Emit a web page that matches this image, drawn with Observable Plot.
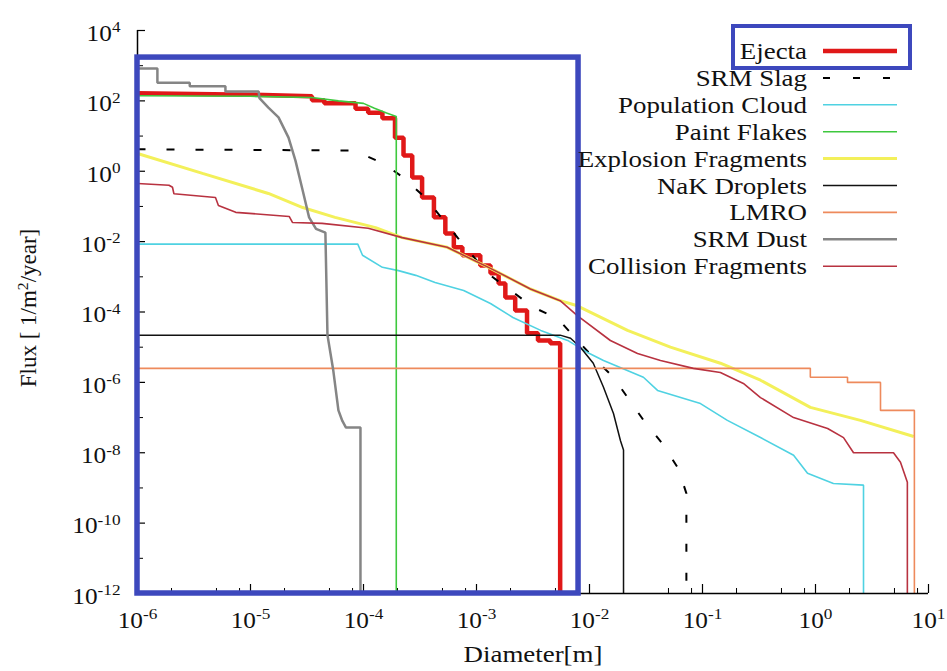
<!DOCTYPE html>
<html><head><meta charset="utf-8">
<script src="https://cdn.jsdelivr.net/npm/d3@7"></script>
<script src="https://cdn.jsdelivr.net/npm/@observablehq/plot@0.6"></script>
<style>
html,body{margin:0;padding:0;background:#fff;}
#chart{width:947px;height:671px;overflow:hidden;}
#chart svg text, #chart svg tspan{font-family:"Liberation Serif","Times New Roman","DejaVu Serif",serif !important;}
</style></head><body><div id="chart"></div>
<script>
// ---------------- data ----------------
const seriesNames = ["Ejecta","SRM Slag","Population Cloud","Paint Flakes","Explosion Fragments","NaK Droplets","LMRO","SRM Dust","Collision Fragments"];

const ejecta = [[1e-6,165],[1e-5,150],[3.5e-5,135],[3.5e-5,105],[4.5e-5,105],[4.5e-5,85],[8.5e-5,85],[8.5e-5,60],[1.1e-4,60],[1.1e-4,46],[1.47e-4,46],[1.47e-4,32],[1.9e-4,32],[1.9e-4,9],[2.26e-4,9],[2.26e-4,2.8],[2.7e-4,2.8],[2.7e-4,0.66],[3.3e-4,0.66],[3.3e-4,0.18],[4.2e-4,0.18],[4.2e-4,0.049],[5.3e-4,0.049],[5.3e-4,0.017],[6.3e-4,0.017],[6.3e-4,0.0069],[7.5e-4,0.0069],[7.5e-4,0.0041],[1.08e-3,0.0041],[1.08e-3,0.0021],[1.33e-3,0.0021],[1.33e-3,1.26e-3],[1.57e-3,1.26e-3],[1.57e-3,6.5e-4],[1.8e-3,6.5e-4],[1.8e-3,2.6e-4],[2.2e-3,2.6e-4],[2.2e-3,1.1e-4],[2.8e-3,1.1e-4],[2.8e-3,2.5e-5],[3.5e-3,2.5e-5],[3.5e-3,1.55e-5],[4.5e-3,1.55e-5],[4.5e-3,1.3e-5],[5.5e-3,1.3e-5],[5.5e-3,1e-12]];

const srmSlag = [[1e-6,4.2],[7.4e-5,3.9],[9e-5,3.4],[1.5e-4,1.66],[2.26e-4,0.66],[3.5e-4,0.18],[6.8e-4,0.013],[1.25e-3,1.26e-3],[3.2e-3,1.35e-4],[5.2e-3,6.6e-5],[1.08e-2,5.1e-6],[1.63e-2,1.4e-6],[2.2e-2,3.5e-7],[3.1e-2,7.3e-8],[4.4e-2,1.85e-8],[6.1e-2,3.6e-9],[7.2e-2,7e-10],[7.2e-2,1e-12]];

const populationCloud = [[1e-6,8.5e-3],[8.9e-5,8.5e-3],[9.8e-5,4.1e-3],[1.47e-4,1.86e-3],[2.04e-4,1.5e-3],[2.9e-4,1.1e-3],[4.3e-4,6.9e-4],[7.7e-4,4.1e-4],[1.33e-3,1.75e-4],[2.1e-3,7e-5],[3.7e-3,3e-5],[6.4e-3,1.56e-5],[9.6e-3,7.1e-6],[1.33e-2,4.2e-6],[3.0e-2,1.4e-6],[4.0e-2,5.9e-7],[9.6e-2,2.5e-7],[0.166,8.3e-8],[0.326,2.7e-8],[0.64,8.5e-9],[0.85,2.6e-9],[1.44,1.34e-9],[2.66,1.2e-9],[2.66,1e-12]];

const paintFlakes = [[1e-6,140],[1e-5,135],[3.5e-5,125],[6e-5,100],[1e-4,85],[1.25e-4,62],[1.6e-4,45],[1.95e-4,36],[1.95e-4,1e-12]];

const explosionFragments = [[1e-6,3.2],[3.76e-6,0.87],[1.44e-5,0.234],[2.9e-5,0.093],[5.6e-5,0.049],[1.28e-4,0.025],[2.2e-4,0.013],[5.5e-4,6.9e-3],[1.33e-3,1.74e-3],[3.0e-3,4.5e-4],[5.5e-3,2.1e-4],[7.8e-3,1.5e-4],[2.17e-2,3e-5],[5.2e-2,1e-5],[0.144,3.5e-6],[0.326,1.15e-6],[0.9,1.95e-7],[2.5,8.3e-8],[7.4,2.9e-8]];

const nakDroplets = [[1e-6,2.2e-5],[5.5e-3,2.2e-5],[6.8e-3,1.8e-5],[8.3e-3,1e-5],[1.08e-2,3.5e-6],[1.33e-2,7.3e-7],[1.63e-2,1.3e-7],[1.88e-2,2.2e-8],[2.0e-2,1.2e-8],[2.0e-2,1e-12]];

const lmro = [[1e-6,2.5e-6],[0.9,2.5e-6],[0.9,1.4e-6],[1.92,1.4e-6],[1.92,1.0e-6],[3.76,1.0e-6],[3.76,1.6e-7],[7.5,1.6e-7],[7.5,1e-12]];

const srmDust = [[1e-6,830],[1.5e-6,830],[1.5e-6,330],[2.9e-6,330],[2.9e-6,260],[6e-6,260],[6e-6,185],[1.18e-5,185],[1.2e-5,120],[1.44e-5,64],[1.77e-5,34],[2.17e-5,9],[2.5e-5,2],[2.9e-5,0.28],[3.3e-5,0.049],[3.8e-5,0.023],[4.6e-5,0.018],[4.8e-5,2.2e-5],[5.4e-5,2.2e-6],[6.0e-5,1.6e-7],[6.5e-5,8e-8],[7e-5,5.2e-8],[9.4e-5,5.2e-8],[9.4e-5,1e-12]];

const collisionFragments = [[1e-6,0.45],[1.9e-6,0.4],[2.04e-6,0.35],[2.1e-6,0.23],[4.9e-6,0.18],[5.2e-6,0.107],[7.4e-6,0.068],[2.2e-5,0.052],[2.35e-5,0.035],[4.3e-5,0.033],[1.1e-4,0.024],[2.2e-4,0.013],[5.5e-4,6.9e-3],[1.33e-3,1.74e-3],[3.0e-3,4.5e-4],[5.5e-3,2.1e-4],[7.8e-3,7.9e-5],[1.53e-2,1.55e-5],[2.66e-2,6.6e-6],[4.25e-2,4.2e-6],[8.3e-2,2.5e-6],[0.144,1.9e-6],[0.23,9.3e-7],[0.326,3.7e-7],[0.64,1.0e-7],[1.28,4.9e-8],[1.77,2.7e-8],[2.17,1.0e-8],[4.9,1.0e-8],[5.65,5.4e-9],[6.5,1.45e-9],[6.5,1e-12]];

const xMajorTicks = [1e-6,1e-5,1e-4,1e-3,1e-2,1e-1,1e0,1e1];
const xMinorTicks = xMajorTicks.slice(0,-1).flatMap(d => [2*d,5*d,8*d]);
const yLabelTicks = [1e-12,1e-10,1e-8,1e-6,1e-4,1e-2,1e0,1e2,1e4];
const yOddTicks = [1e-11,1e-9,1e-7,1e-5,1e-3,1e-1,1e1,1e3];
const highlight = {x1: 1e-6, x2: 8.0e-3, y1: 1e-12, y2: 1.7e3};

// ---------------- styles ----------------
const seriesData = [ejecta,srmSlag,populationCloud,paintFlakes,explosionFragments,nakDroplets,lmro,srmDust,collisionFragments];
const seriesColors = ["#e01818","#000000","#4fd2e2","#3ec83e","#f3f05a","#111111","#ee8a5c","#858585","#b83240"];
const seriesWidths = [4.5,2,1.6,1.6,3,1.5,1.6,2.5,1.6];
const seriesDash = [null,"8,21",null,null,null,null,null,null,null];
const blue = "#3d48bd";

const W = 947, H = 671, mL = 137, mR = 19, mT = 30, mB = 78;
const plotW = W - mL - mR, plotH = H - mT - mB;
const serif = "Liberation Serif, Times New Roman, DejaVu Serif, serif";

const rows = seriesNames.map((name, i) => seriesData[i].map(([x, y]) => ({series: name, x, y})));

const lineMarks = rows.map((r, i) => Plot.line(r, {
  x: "x", y: "y", stroke: seriesColors[i], strokeWidth: seriesWidths[i],
  strokeDasharray: seriesDash[i] || undefined, strokeLinejoin: "miter", strokeLinecap: "butt"
}));

const expFmt = d => String(Math.round(Math.log10(d)));

const chart = Plot.plot({
  width: W, height: H,
  marginLeft: mL, marginRight: mR, marginTop: mT, marginBottom: mB,
  style: {fontFamily: serif, fontSize: "23px", background: "#fff", color: "#000", overflow: "visible"},
  x: {type: "log", domain: [1e-6, 1e1]},
  y: {type: "log", domain: [1e-12, 1e4]},
  marks: [
    Plot.ruleX(xMinorTicks, {insetTop: plotH - 5, stroke: "#000", strokeWidth: 1}),
    Plot.ruleX(xMajorTicks, {insetTop: plotH - 9, stroke: "#000", strokeWidth: 1.2}),
    Plot.ruleY(yOddTicks, {insetRight: plotW - 6, stroke: "#000", strokeWidth: 1}),
    Plot.ruleY(yLabelTicks, {insetRight: plotW - 8, stroke: "#000", strokeWidth: 1.2}),
    Plot.axisX(xMajorTicks, {tickSize: 0, tickPadding: 18, tickFormat: expFmt, label: null, fontSize: 23, fill: "#111"}),
    Plot.axisY(yLabelTicks, {tickSize: 0, tickPadding: 17, tickFormat: expFmt, label: null, fontSize: 23, fill: "#111", dy: 3}),
    ...lineMarks,
    Plot.ruleX([1e-6], {stroke: "#000", strokeWidth: 1.5}),
    Plot.ruleY([1e-12], {stroke: "#000", strokeWidth: 1.5}),
    Plot.rect([highlight], {x1: "x1", x2: "x2", y1: "y1", y2: "y2", fill: "none", stroke: blue, strokeWidth: 5.5})
  ]
});

document.getElementById("chart").appendChild(chart);

// ---------------- superscript tick labels ----------------
const svg = d3.select(chart);
svg.selectAll('g[aria-label="x-axis tick label"] text, g[aria-label="y-axis tick label"] text').each(function() {
  const t = d3.select(this);
  const e = t.text();
  t.text("");
  t.attr("font-family", serif);
  t.append("tspan").text("10");
  t.append("tspan").attr("dy", "-0.55em").attr("font-size", "0.68em").text(e);
  const tr = t.attr("transform");
  if (tr) t.attr("transform", tr + " scale(1.1,1)");
});

// ---------------- axis titles ----------------
const g = svg.append("g").attr("font-family", serif).attr("fill", "#111");
g.append("text").attr("transform", "translate(533,662) scale(1.17,1)").attr("text-anchor", "middle")
  .attr("font-size", 23).text("Diameter[m]");
const yt = g.append("text").attr("transform", "translate(36,308) rotate(-90)").attr("text-anchor", "middle")
  .attr("font-size", 23);
yt.append("tspan").text("Flux [ 1/m");
yt.append("tspan").attr("dy", "-0.5em").attr("font-size", "0.68em").text("2");
yt.append("tspan").attr("dy", "0.34em").text("/year]");

// ---------------- legend ----------------
const legX = 807, lineX1 = 823, lineX2 = 897, legY0 = 51, legDy = 26.9;
seriesNames.forEach((name, i) => {
  const y = legY0 + i * legDy;
  g.append("text").attr("transform", `translate(${legX},${y + 8}) scale(1.17,1)`)
    .attr("text-anchor", "end").attr("font-size", 23).text(name);
  const l = g.append("line").attr("x1", lineX1).attr("x2", lineX2).attr("y1", y).attr("y2", y)
    .attr("stroke", seriesColors[i]).attr("stroke-width", seriesWidths[i]);
  if (seriesDash[i]) l.attr("stroke-dasharray", "7,23");
});
g.append("rect").attr("x", 733).attr("y", 26).attr("width", 177).attr("height", 42)
  .attr("fill", "none").attr("stroke", blue).attr("stroke-width", 4);
</script>
</body></html>
